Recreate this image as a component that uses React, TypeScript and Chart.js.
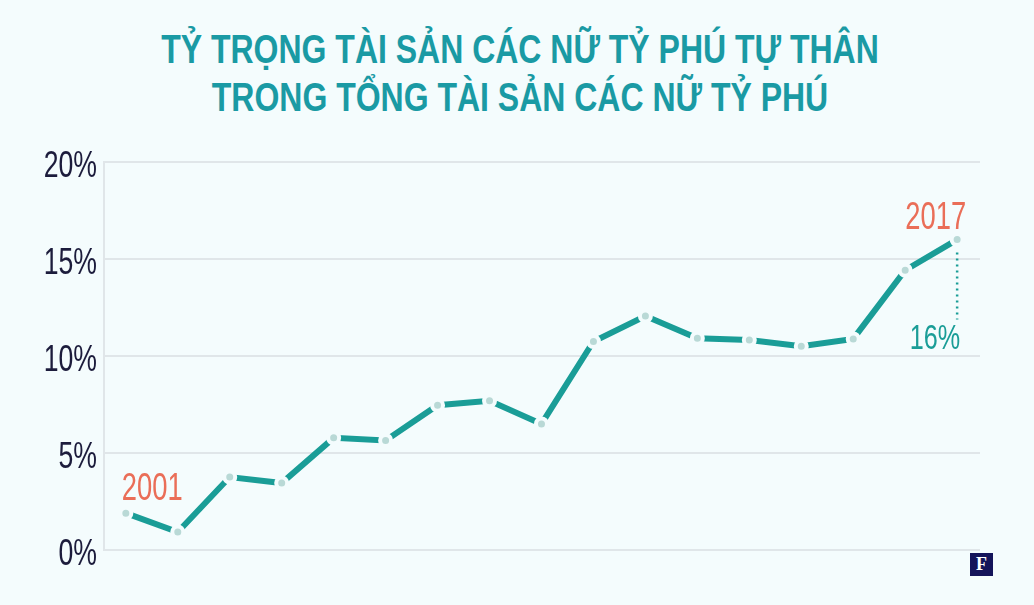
import React, { useEffect, useRef } from "react";
import { Chart, registerables } from "chart.js";

Chart.register(...registerables);

const years = [2001, 2002, 2003, 2004, 2005, 2006, 2007, 2008, 2009, 2010, 2011, 2012, 2013, 2014, 2015, 2016, 2017];
const shares = [1.9, 0.93, 3.76, 3.45, 5.78, 5.65, 7.46, 7.69, 6.5, 10.75, 12.06, 10.92, 10.82, 10.5, 10.88, 14.42, 16.0];
const yTicks = [0, 5, 10, 15, 20];
const titleLines = ["TỶ TRỌNG TÀI SẢN CÁC NỮ TỶ PHÚ TỰ THÂN", "TRONG TỔNG TÀI SẢN CÁC NỮ TỶ PHÚ"];
const startLabel = "2001";
const endLabel = "2017";
const endValueLabel = "16%";

const BG = "#f4fcfd";
const TEAL = "#1a9d97";
const TITLE_TEAL = "#1a9aa4";
const SALMON = "#ea6e58";
const NAVY = "#1c1c3c";
const GRID = "#e0e6e9";
const SANS = '"Liberation Sans", Arial, sans-serif';
const SQUEEZE = 0.72;

function drawSqueezed(ctx: CanvasRenderingContext2D, text: string, x: number, y: number, align: "left" | "right" | "center", size: number, color: string) {
  ctx.save();
  ctx.font = `${size}px ${SANS}`;
  ctx.fillStyle = color;
  ctx.textBaseline = "alphabetic";
  ctx.textAlign = align;
  ctx.translate(x, y);
  ctx.scale(SQUEEZE, 1);
  ctx.fillText(text, 0, 0);
  ctx.restore();
}

const annotationPlugin = {
  id: "annots",
  afterDraw(chart: any) {
    const ctx = chart.ctx as CanvasRenderingContext2D;
    // y tick labels, placed through the y scale
    const ys = chart.scales.y;
    yTicks.forEach((v) => {
      drawSqueezed(ctx, `${v}%`, ys.right - 7, ys.getPixelForValue(v) + 15, "right", 37, NAVY);
    });
    const meta = chart.getDatasetMeta(0);
    const first = meta.data[0];
    const last = meta.data[meta.data.length - 1];
    drawSqueezed(ctx, startLabel, first.x - 4, first.y - 13, "left", 38, SALMON);
    drawSqueezed(ctx, endLabel, last.x + 9, last.y - 11, "right", 38, SALMON);
    ctx.save();
    ctx.strokeStyle = TEAL;
    ctx.lineWidth = 2.5;
    ctx.setLineDash([2, 4]);
    ctx.beginPath();
    ctx.moveTo(last.x, last.y + 13);
    ctx.lineTo(last.x, last.y + 80);
    ctx.stroke();
    ctx.restore();
    drawSqueezed(ctx, endValueLabel, last.x + 3, last.y + 109, "right", 35, TEAL);
  },
};

function LineChart() {
  const ref = useRef<HTMLCanvasElement | null>(null);
  useEffect(() => {
    if (!ref.current) return;
    const chart = new Chart(ref.current, {
      type: "line",
      data: {
        datasets: [
          {
            data: years.map((y, i) => ({ x: y, y: shares[i] })),
            borderColor: TEAL,
            borderWidth: 6,
            pointRadius: 5.5,
            pointBorderWidth: 4,
            pointBackgroundColor: "#b9d9d6",
            pointBorderColor: BG,
            tension: 0,
          },
        ],
      },
      plugins: [annotationPlugin],
      options: {
        animation: false,
        responsive: false,
        maintainAspectRatio: false,
        layout: { padding: { top: 42, bottom: 55, right: 54, left: 0 } },
        plugins: { legend: { display: false }, tooltip: { enabled: false }, title: { display: false } },
        scales: {
          x: {
            type: "linear",
            min: 2000.58,
            max: 2017.44,
            display: false,
          },
          y: {
            min: 0,
            max: 20,
            afterBuildTicks: (s: any) => {
              s.ticks = yTicks.map((v) => ({ value: v }));
            },
            afterFit: (s: any) => {
              s.width = 104;
            },
            grid: { color: GRID, lineWidth: 2, drawTicks: false },
            border: { display: true, color: GRID, width: 2 },
            ticks: { display: false },
          },
        },
      },
    });
    return () => chart.destroy();
  }, []);
  return <canvas ref={ref} width={1034} height={485} style={{ position: "absolute", left: 0, top: 120, width: 1034, height: 485 }} />;
}

export default function App() {
  return (
    <div style={{ position: "fixed", left: 0, top: 0, width: 1034, height: 605, background: BG, overflow: "hidden" }}>
      <div
        style={{
          position: "absolute",
          top: 25,
          left: 0,
          width: 1040,
          textAlign: "center",
          fontFamily: SANS,
          fontWeight: "bold",
          fontSize: 41,
          lineHeight: "48px",
          color: TITLE_TEAL,
          whiteSpace: "nowrap",
        }}
      >
        {titleLines.map((t) => (
          <div key={t} style={{ transform: "scaleX(0.78)" }}>{t}</div>
        ))}
      </div>
      <LineChart />
      <div
        style={{
          position: "absolute",
          left: 970,
          top: 553,
          width: 23,
          height: 23,
          background: "#14145a",
          color: "#fff",
          fontFamily: '"Liberation Serif", "DejaVu Serif", serif',
          fontWeight: "bold",
          fontSize: 18,
          lineHeight: "23px",
          textAlign: "center",
        }}
      >
        F
      </div>
    </div>
  );
}
